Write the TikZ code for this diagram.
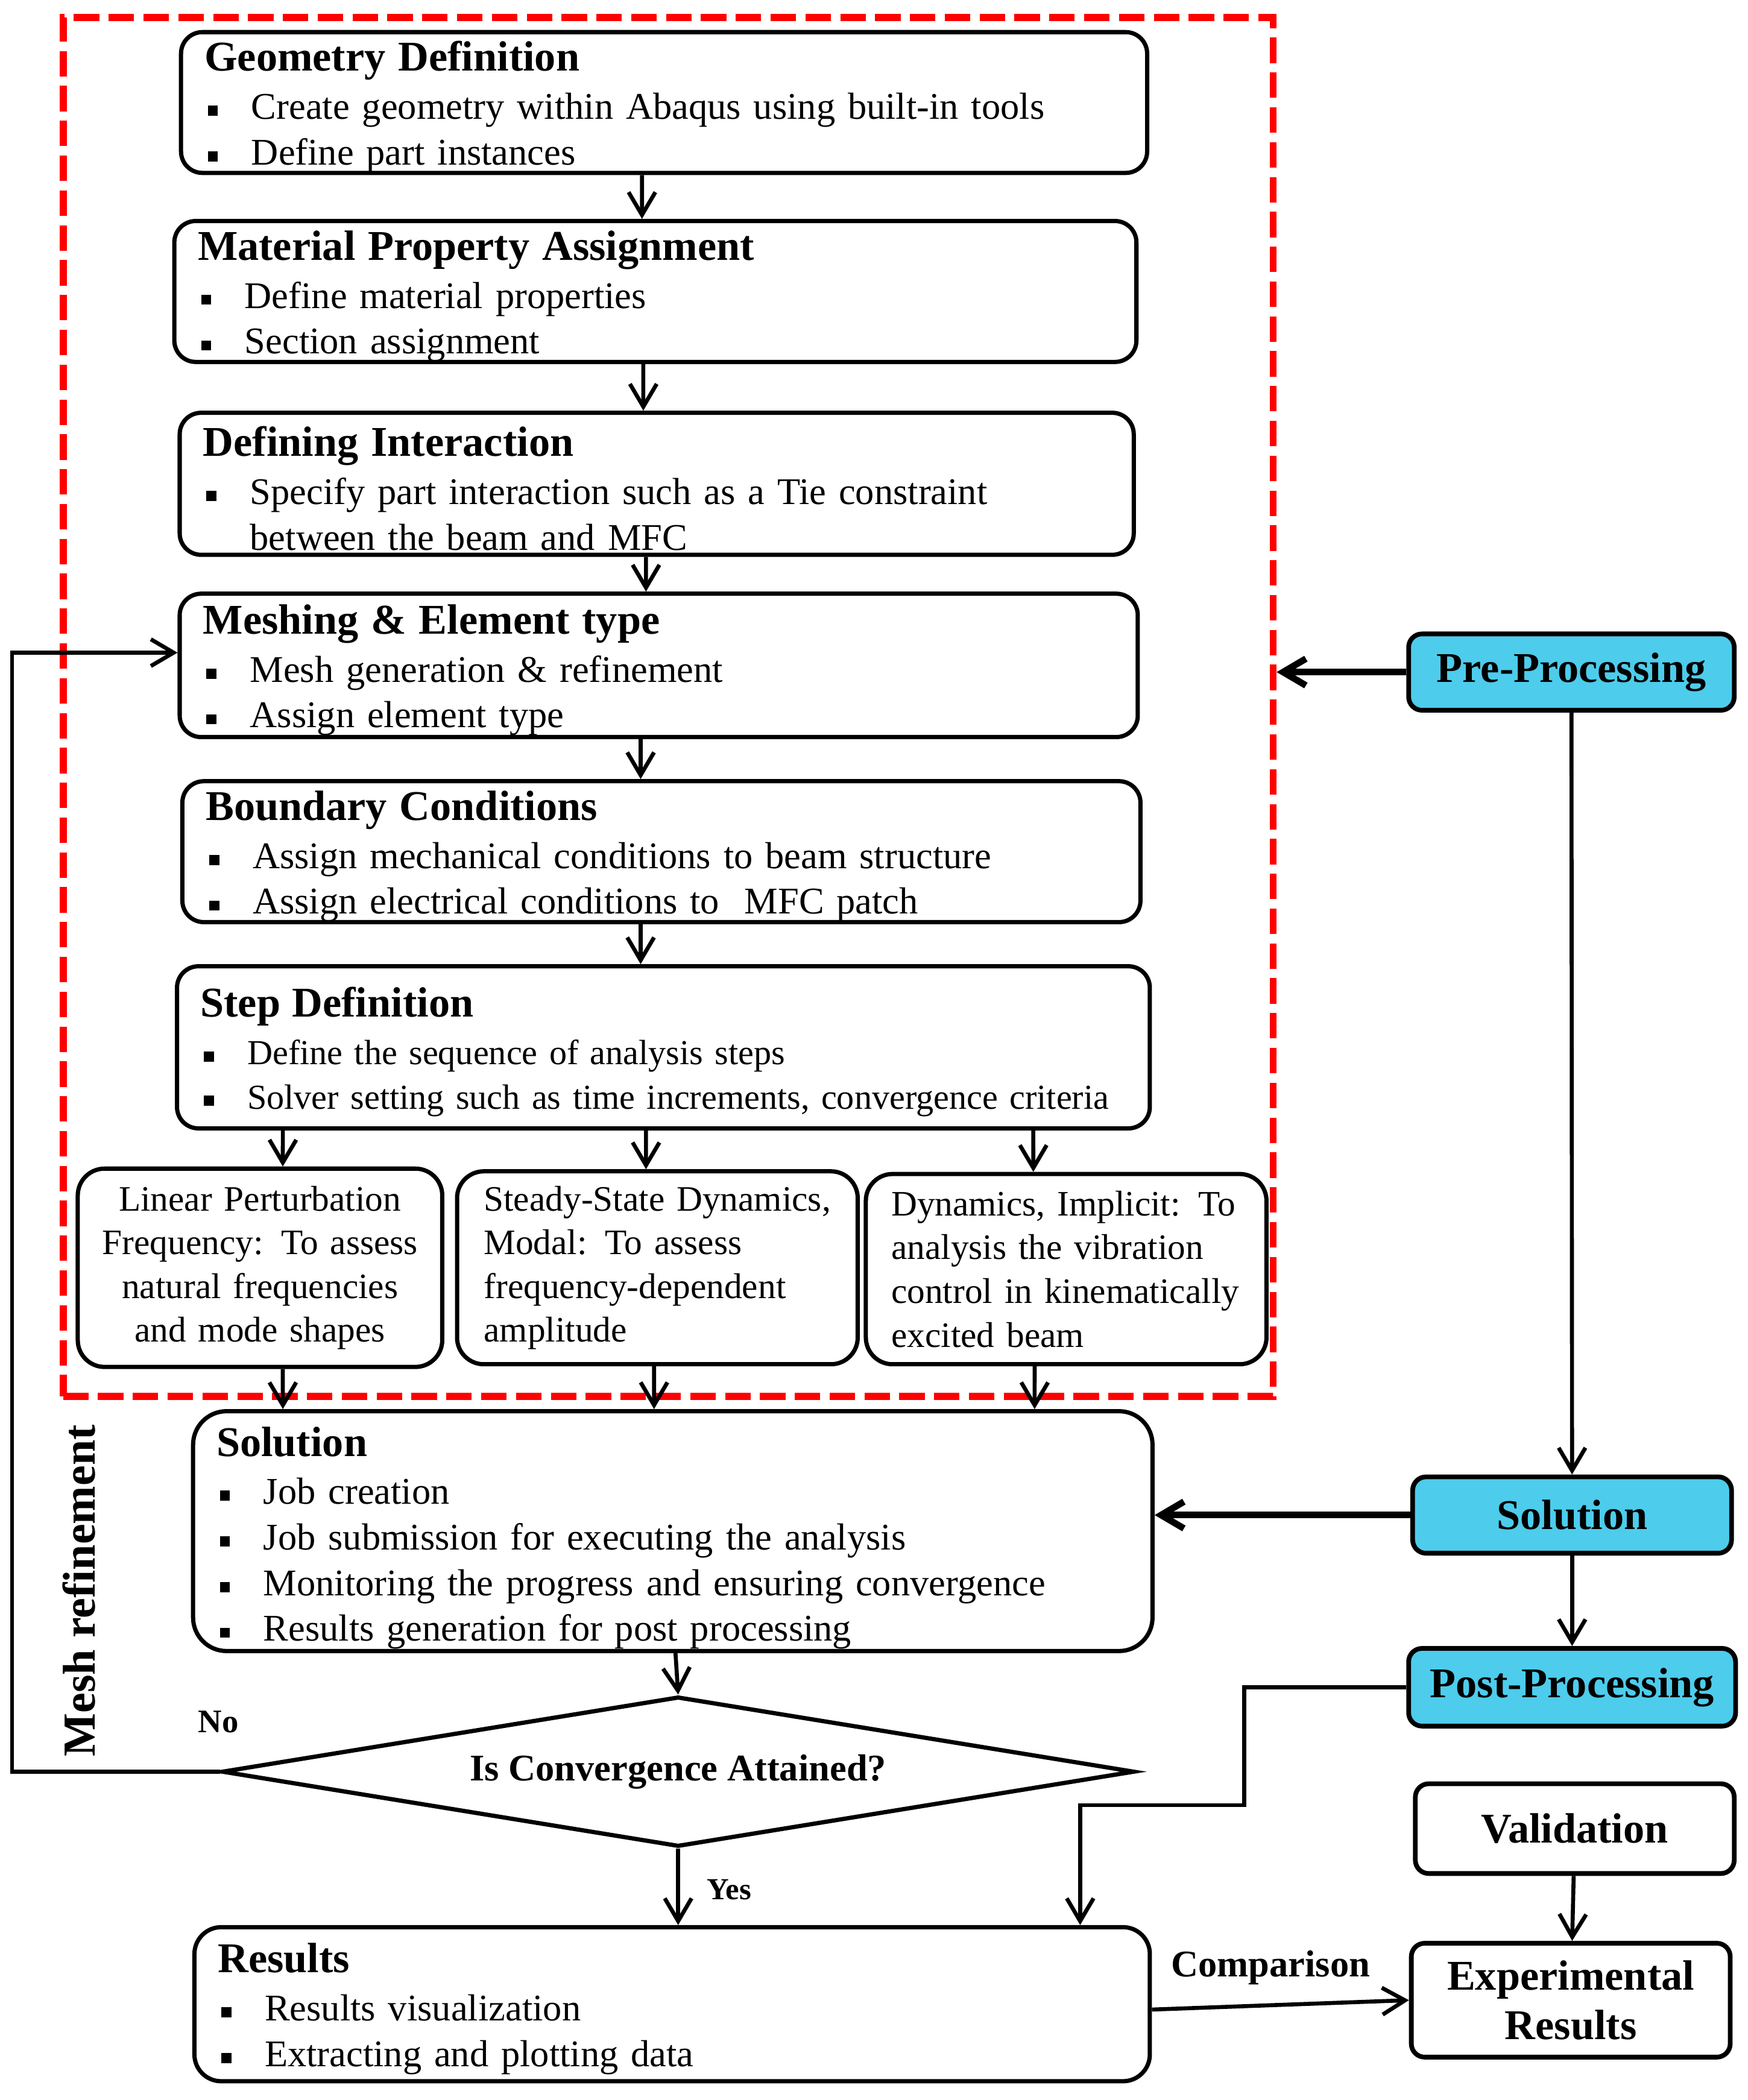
\documentclass[tikz,border=0pt]{standalone}
\usepackage{fontspec}
\setmainfont{Liberation Serif}
\usetikzlibrary{positioning,shapes.geometric,arrows.meta}
\definecolor{procblue}{RGB}{77,204,236}
\newcommand{\bul}{\makebox[0.7cm][l]{\hspace{0.05cm}\rule[0.09em]{0.15cm}{0.15cm}}}
\newcommand{\hd}[1]{{\fontsize{18}{20}\selectfont\bfseries\rule{0pt}{16.5pt}#1}}

\begin{document}
\begin{tikzpicture}[x=0.02cm, y=-0.02cm,
    stage/.style 2 args={rectangle, rounded corners=0.32cm, draw, line width=1.8pt, align=left,
        inner xsep=0.35cm, inner ysep=0pt, text width=#1, minimum height=#2,
        font=\fontsize{16}{19.4}\selectfont},
    option/.style 2 args={rectangle, rounded corners=0.4cm, draw, line width=1.8pt,
        inner ysep=0pt, text width=#1, minimum height=#2, font=\fontsize{15.2}{18.6}\selectfont},
    proc/.style 2 args={rectangle, rounded corners=0.2cm, draw, line width=2pt, fill=procblue,
        align=center, minimum width=#1, minimum height=#2, font=\fontsize{18}{21}\selectfont\bfseries},
    arr/.style={-{Straight Barb[length=3.4mm,width=4mm]}, line width=1.7pt},
    thickarr/.style={-{Straight Barb[length=3.4mm,width=4mm]}, line width=2.8pt}]
    \useasboundingbox (0,0) rectangle (1304,1567);

    % pre-processing frame
    \node[draw=red, line width=3pt, dash pattern=on 0.38cm off 0.14cm, minimum width=18.06cm, minimum height=20.58cm] at (498.5, 527.5) (prebox) {};

    \node[stage={13.72cm}{2.06cm}] at (495.5, 76.5) (geo) {\hd{Geometry Definition}\\[1.1pt]
        \bul Create geometry within Abaqus using built-in tools\\ \bul Define part instances};
    \node[stage={13.66cm}{2.10cm}] at (489, 217.5) (mat) {\hd{Material Property Assignment}\\[1.1pt]
        \bul Define material properties\\ \bul Section assignment};
    \node[stage={13.54cm}{2.12cm}] at (490, 361) (inter) {\hd{Defining Interaction}\\[1.1pt]
        \bul Specify part interaction such as a Tie constraint\\ \hspace*{0.7cm}between the beam and MFC};
    \node[stage={13.60cm}{2.14cm}] at (491.5, 496.5) (mesh) {\hd{Meshing \& Element type}\\[1.1pt]
        \bul Mesh generation \& refinement\\ \bul Assign element type};
    \node[stage={13.60cm}{2.06cm}] at (493.5, 635.5) (bc) {\hd{Boundary Conditions}\\[1.1pt]
        \bul Assign mechanical conditions to beam structure\\ \bul Assign electrical conditions to\ \ MFC patch};
    \node[stage={13.82cm}{2.42cm}, font=\fontsize{14.9}{18.8}\selectfont] at (495, 781.5) (step) {\hd{Step Definition}\\[1.5pt]
        \bul Define the sequence of analysis steps\\ \bul \mbox{Solver setting such as time increments, convergence criteria}};

    \node[option={5.04cm}{2.96cm}, inner xsep=0.2cm, align=center] at (194, 946) (lin)
        {Linear Perturbation\\ Frequency: To assess\\ natural frequencies\\ and mode shapes};
    \node[option={5.18cm}{2.88cm}, inner xsep=0.4cm, align=left] at (490.5, 946) (ssd)
        {Steady-State Dynamics,\\ Modal: To assess\\ frequency-dependent\\ amplitude};
    \node[option={5.22cm}{2.84cm}, inner xsep=0.38cm, align=left] at (795.5, 947) (dyn)
        {\makebox[4.98cm][s]{Dynamics, Implicit: To}\\ analysis the vibration\\ control in kinematically\\ excited beam};

    \node[stage={13.62cm}{3.58cm}, rounded corners=0.5cm] at (502, 1142.5) (sol) {\hd{\rule{0pt}{18.5pt}Solution}\\[0.8pt]
        \bul Job creation\\ \bul Job submission for executing the analysis\\
        \bul Monitoring the progress and ensuring convergence\\ \bul Results generation for post processing};
    \node[diamond, draw, line width=1.8pt, aspect=6, inner sep=0pt, minimum width=13.62cm, minimum height=2.24cm,
        font=\fontsize{16}{19}\selectfont\bfseries] at (506, 1322) (dia) {Is Convergence Attained?};
    \node[stage={13.56cm}{2.30cm}, rounded corners=0.4cm] at (501.5, 1495.5) (res) {\hd{Results}\\[1.1pt]
        \bul Results visualization\\ \bul Extracting and plotting data};

    \node[proc={4.86cm}{1.14cm}] at (1172.5, 501.5) (pre) {Pre-Processing};
    \node[proc={4.76cm}{1.14cm}] at (1173, 1130.5) (solr) {Solution};
    \node[proc={4.88cm}{1.16cm}] at (1173, 1259) (post) {Post-Processing};
    \node[proc={4.76cm}{1.34cm}, fill=white] at (1175, 1364.5) (valid) {Validation};
    \node[proc={4.76cm}{1.70cm}, fill=white] at (1172, 1492.5) (exp) {Experimental\\ Results};

    \node[rotate=90, font=\fontsize{19.5}{19.5}\selectfont\bfseries] at (59, 1187) (meshlbl) {Mesh refinement};
    \node[font=\fontsize{14}{14}\selectfont\bfseries] at (163, 1285) (no) {No};
    \node[font=\fontsize{13}{13}\selectfont\bfseries] at (544, 1410) (yes) {Yes};
    \node[font=\fontsize{16}{16}\selectfont\bfseries] at (948, 1468) (cmp) {Comparison};

    \draw[arr] ([xshift=-0.33cm]geo.south) -- ([xshift=-0.2cm]mat.north);
    \draw[arr] ([xshift=-0.18cm]mat.south) -- ([xshift=-0.2cm]inter.north);
    \draw[arr] ([xshift=-0.16cm]inter.south) -- ([xshift=-0.19cm]mesh.north);
    \draw[arr] ([xshift=-0.27cm]mesh.south) -- ([xshift=-0.31cm]bc.north);
    \draw[arr] ([xshift=-0.31cm]bc.south) -- ([xshift=-0.34cm]step.north);
    \draw[arr] ([xshift=-5.68cm]step.south) -- ([xshift=0.34cm]lin.north);
    \draw[arr] ([xshift=-0.26cm]step.south) -- ([xshift=-0.17cm]ssd.north);
    \draw[arr] ([xshift=5.52cm]step.south) -- ([xshift=-0.49cm]dyn.north);
    \draw[arr] ([xshift=0.34cm]lin.south) -- ([xshift=-5.82cm]sol.north);
    \draw[arr] ([xshift=-0.05cm]ssd.south) -- ([xshift=-0.28cm]sol.north);
    \draw[arr] ([xshift=-0.47cm]dyn.south) -- ([xshift=5.4cm]sol.north);
    \draw[arr] ([xshift=0.04cm]sol.south) -- (dia.north);
    \draw[arr] (dia.south) -- (res.north -| dia.south);
    \draw[arr] (dia.west) -- ++(-155,0) |- ([yshift=0.19cm]mesh.west);

    \draw[thickarr] (pre) -- (pre -| prebox.east);
    \draw[arr] (pre) -- (solr);
    \draw[thickarr] (solr) -- (solr -| sol.east);
    \draw[arr] (solr) -- (post);
    \draw[arr] (post.west) -- ++(-121,0) -- ++(0,88) -| ([xshift=6.09cm]res.north);
    \draw[arr] (valid) -- (exp);
    \draw[arr] ([yshift=-0.08cm]res.east) -- (exp.west);
\end{tikzpicture}
\end{document}
